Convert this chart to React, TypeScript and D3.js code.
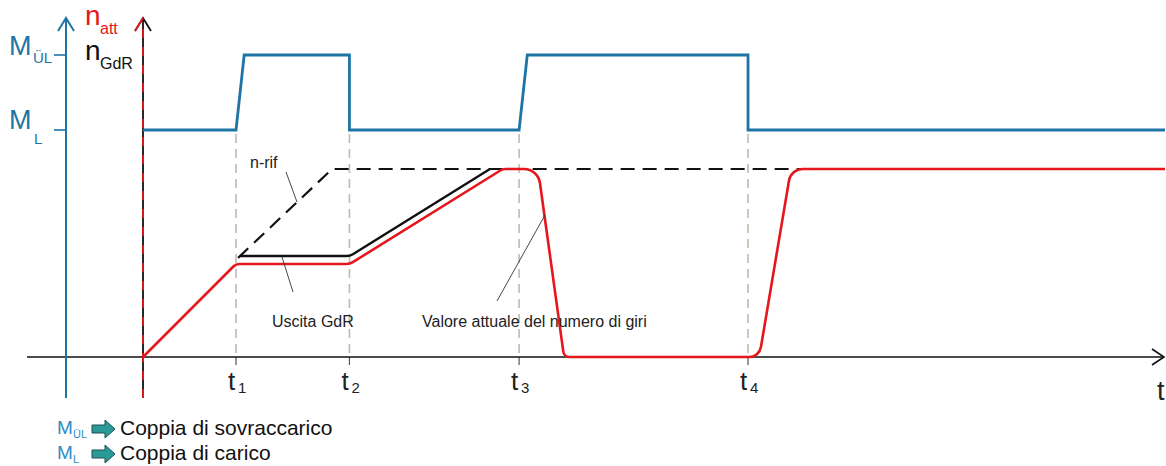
import React from "react";
import * as d3 from "d3";

// Time axis: 0..100 units; speed 0..100 %; torque levels 1 (M_L) and 2 (M_ÜL)
const tickTimes = [9.1, 20.2, 36.8, 59.2];
const tickLabels = ["1", "2", "3", "4"];

const torqueT = [0, 9.1, 9.9, 20.2, 20.2, 36.8, 37.6, 59.2, 59.2, 100];
const torqueM = [1, 1, 2, 2, 1, 1, 2, 2, 1, 1];

const refT = [9.3, 18.5, 64.3];
const refN = [52.7, 100, 100];

// corner points of the controller output and of the actual speed
const gdrT = [9.49, 20.25, 33.95];
const gdrN = [53.7, 53.7, 100];

const actT = [0, 9.1, 20.25, 35.2, 38.65, 41.2, 60.3, 63.4, 100];
const actN = [0, 49.5, 49.5, 100, 100, 0, 0, 100, 100];

const W = 1166;
const H = 466;
const BLUE = "#1f74a6";
const RED = "#e5161c";
const GREY = "#bdbbae";
const FONT = "Liberation Sans, Arial, sans-serif";

// polyline with rounded corners built by d3.path().arcTo
function rounded(pts: [number, number][], radii: number[]) {
  const p = d3.path();
  p.moveTo(pts[0][0], pts[0][1]);
  for (let i = 1; i < pts.length - 1; i++) {
    p.arcTo(pts[i][0], pts[i][1], pts[i + 1][0], pts[i + 1][1], radii[i - 1] ?? 0);
  }
  const last = pts[pts.length - 1];
  p.lineTo(last[0], last[1]);
  return p.toString();
}

export default function App() {
  const x = d3.scaleLinear().domain([0, 100]).range([143, 1165]);
  const yN = d3.scaleLinear().domain([0, 100]).range([357, 169]);
  const yM = d3.scaleLinear().domain([1, 2]).range([130, 55]);

  const torque = d3
    .line<number>()
    .x((_, i) => x(torqueT[i]))
    .y((d) => yM(d))(torqueM);
  const ref = d3
    .line<number>()
    .x((_, i) => x(refT[i]))
    .y((d) => yN(d))(refN);
  const gdr = rounded(
    gdrN.map((n, i) => [x(gdrT[i]), yN(n)] as [number, number]),
    [12]
  );
  const act = rounded(
    actN.map((n, i) => [x(actT[i]), yN(n)] as [number, number]),
    [8, 12, 10, 16, 6, 12, 14]
  );

  const x0 = x(0);
  const y0 = yN(0);
  const axM = 66;

  return (
    <svg width={W} height={H} style={{ position: "absolute", left: 0, top: 0, background: "#fff" }} fontFamily={FONT}>
      {/* time guides */}
      {tickTimes.map((t, i) => (
        <g key={i}>
          <line x1={x(t)} x2={x(t)} y1={yM(1) + 4} y2={y0} stroke={GREY} strokeWidth={1.6} strokeDasharray="9,6" />
          <line x1={x(t)} x2={x(t)} y1={y0} y2={y0 + 8} stroke="#555" strokeWidth={1.2} />
        </g>
      ))}

      {/* x axis */}
      <line x1={27} x2={1164} y1={y0} y2={y0} stroke="#111" strokeWidth={1.6} />
      <polyline points={`1152,${y0 - 8} 1164,${y0} 1152,${y0 + 8}`} fill="none" stroke="#111" strokeWidth={1.6} />
      <text x={1157} y={400} fontSize={27} fill="#222">t</text>

      {/* torque axis */}
      <line x1={axM} x2={axM} y1={398} y2={19} stroke={BLUE} strokeWidth={2} />
      <polyline points={`${axM - 8},${31} ${axM},${18} ${axM + 8},${31}`} fill="none" stroke={BLUE} strokeWidth={2} />
      {[1, 2].map((m) => (
        <line key={m} x1={axM - 12} x2={axM} y1={yM(m)} y2={yM(m)} stroke={BLUE} strokeWidth={1.6} />
      ))}
      <text x={9} y={yM(2)} fontSize={27} fill={BLUE}>M</text>
      <text x={33} y={yM(2) + 8} fontSize={15} fill={BLUE}>ÜL</text>
      <text x={9} y={129} fontSize={27} fill={BLUE}>M</text>
      <text x={34} y={144} fontSize={15} fill={BLUE}>L</text>

      {/* speed axis */}
      <line x1={x0} x2={x0} y1={398} y2={19} stroke="#111" strokeWidth={1.8} />
      <line x1={x0} x2={x0} y1={398} y2={25} stroke={RED} strokeWidth={1.8} strokeDasharray="9,9" />
      <polyline points={`${x0 - 8},${31} ${x0},${18} ${x0 + 8},${31}`} fill="none" stroke="#111" strokeWidth={1.8} />
      <polyline points={`${x0 - 8},${31} ${x0},${18}`} fill="none" stroke={RED} strokeWidth={1.8} />
      <text x={85} y={25} fontSize={28} fill={RED}>n</text>
      <text x={100} y={34} fontSize={16} fill={RED}>att</text>
      <text x={85} y={60} fontSize={28} fill="#111">n</text>
      <text x={100} y={69} fontSize={16} fill="#111">GdR</text>

      {/* curves */}
      <path d={torque ?? ""} fill="none" stroke={BLUE} strokeWidth={2.8} strokeLinejoin="miter" />
      <path d={ref ?? ""} fill="none" stroke="#111" strokeWidth={2.2} strokeDasharray="14,8" />
      <path d={gdr} fill="none" stroke="#111" strokeWidth={2.4} />
      <path d={act} fill="none" stroke={RED} strokeWidth={2.6} />

      {/* t labels */}
      {tickTimes.map((t, i) => (
        <g key={i} fill="#222">
          <text x={x(t) - 8} y={390} fontSize={26}>t</text>
          <text x={x(t) + 2} y={393} fontSize={15}>{tickLabels[i]}</text>
        </g>
      ))}

      {/* annotations */}
      <text x={250} y={168} fontSize={16} fill="#222">n-rif</text>
      <line x1={286} y1={172} x2={297} y2={202} stroke="#333" strokeWidth={0.9} />
      <text x={272} y={327} fontSize={16} fill="#222">Uscita GdR</text>
      <line x1={282} y1={257} x2={293} y2={292} stroke="#333" strokeWidth={0.9} />
      <text x={422} y={327} fontSize={16} fill="#222">Valore attuale del numero di giri</text>
      <line x1={497} y1={301} x2={545} y2={215} stroke="#333" strokeWidth={0.9} />

      {/* legend */}
      {[
        { sub: "ÜL", text: "Coppia di sovraccarico", y: 435 },
        { sub: "L", text: "Coppia di carico", y: 460 },
      ].map((d, i) => (
        <g key={i}>
          <text x={57} y={d.y - 1} fontSize={19} fill="#2f8cc4">M</text>
          <text x={73} y={d.y + 3} fontSize={11} fill="#2f8cc4">{d.sub}</text>
          <path
            d={`M92,${d.y - 10} h13 v-5 l10,9 l-10,9 v-5 h-13 z`}
            fill="#2a9a96"
            stroke="#1d4f55"
            strokeWidth={1}
          />
          <text x={120} y={d.y} fontSize={21} fill="#111">{d.text}</text>
        </g>
      ))}
    </svg>
  );
}
